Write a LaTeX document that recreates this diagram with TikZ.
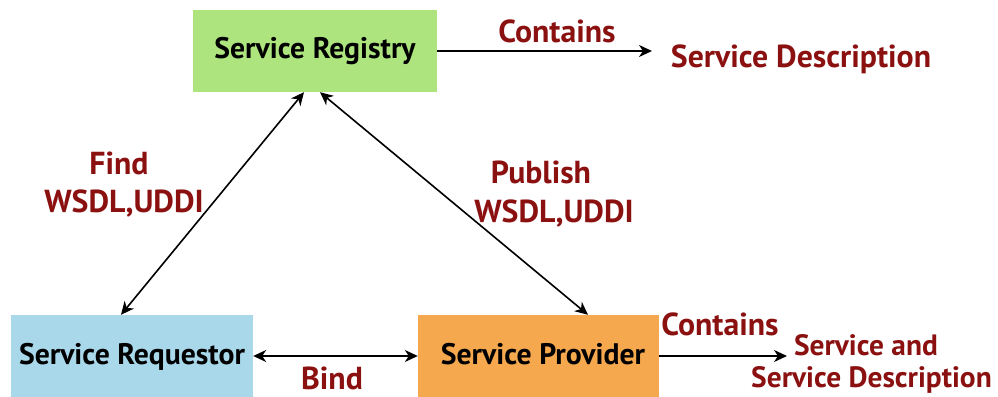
\documentclass[tikz,border=0pt]{standalone}
\usepackage{fontspec}
\setmainfont{PT Sans}
\usetikzlibrary{arrows.meta}
\definecolor{regc}{RGB}{173,228,125}
\definecolor{reqc}{RGB}{168,216,234}
\definecolor{provc}{RGB}{245,168,77}
\definecolor{lblc}{RGB}{139,17,17}
\tikzset{
  tip/.tip={Stealth[length=13pt,width=12pt,inset=4pt]},
  box/.style={draw=none, inner sep=0pt, font=\bfseries\fontsize{29.7}{33}\selectfont,
    text height=16pt, text depth=0pt, minimum height=82pt},
  lbl/.style={inner sep=0pt, text=lblc, font=\bfseries\fontsize{31.8}{35}\selectfont, anchor=base},
  slbl/.style={lbl, font=\bfseries\fontsize{29.4}{33}\selectfont},
  arr/.style={line width=1.6pt, -tip},
  darr/.style={line width=1.6pt, tip-tip}
}
\begin{document}
\begin{tikzpicture}[x=1pt,y=-1pt]
\useasboundingbox (0,0) rectangle (998,396);
\node[box, fill=regc, minimum width=244pt] (reg) at (315,51) {Service Registry};
\node[box, fill=reqc, minimum width=242pt, minimum height=82pt] (req) at (132,356) {Service Requestor\hspace{4pt}};
\node[box, fill=provc, minimum width=241pt, minimum height=82pt] (prov) at (538.5,356) {\hspace{9pt}Service Provider};
\coordinate (c1) at (652,51);
\coordinate (c2) at (787,356);
\draw[arr] (reg.east) -- (c1);
\draw[arr] (prov.east) -- (c2);
\draw[darr] ([xshift=-11pt]req.north) -- ([xshift=-11pt]reg.south);
\draw[darr] ([xshift=5pt]reg.south) -- ([xshift=49.5pt]prov.north);
\draw[darr] (req.east) -- (prov.west);
\node[lbl] (t1) at (557,43) {Contains};
\node[lbl] (t2) at (801,67) {Service Description};
\node[lbl] (t3) at (119,174) {Find};
\node[lbl] (t4) at (124,212) {WSDL,UDDI};
\node[lbl] (t5) at (541,183) {Publish};
\node[lbl] (t6) at (554,222) {WSDL,UDDI};
\node[lbl] (t7) at (332,389) {Bind};
\node[lbl] (t8) at (720,335) {Contains};
\node[slbl] (t9) at (866,355) {Service and};
\node[slbl] (t10) at (871.5,387) {Service Description};
\end{tikzpicture}
\end{document}
